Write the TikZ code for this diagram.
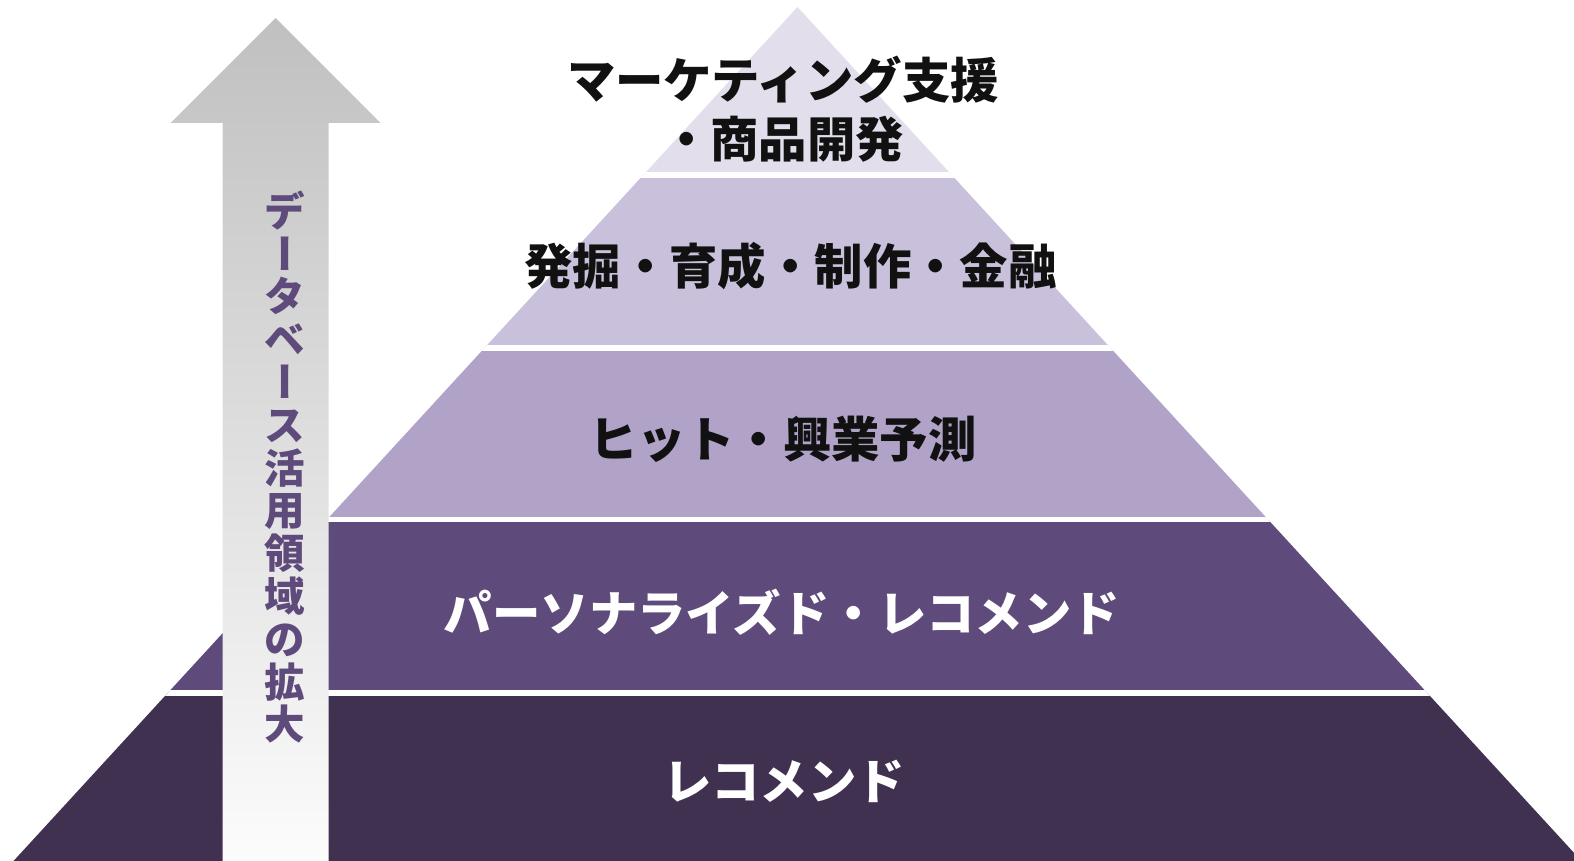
\documentclass[tikz,border=0pt]{standalone}
\usepackage{fontspec}
\setmainfont{Noto Sans CJK JP}
\definecolor{layA}{RGB}{227,222,236}
\definecolor{layB}{RGB}{201,192,219}
\definecolor{layC}{RGB}{177,162,200}
\definecolor{layD}{RGB}{95,75,123}
\definecolor{layE}{RGB}{65,49,81}
\definecolor{ink}{RGB}{17,17,17}
\definecolor{vink}{RGB}{95,75,123}
\definecolor{arrtop}{RGB}{192,192,192}
\definecolor{arrmid}{RGB}{206,206,206}
\definecolor{arrbot}{RGB}{252,252,252}
\tikzset{
  lbl/.style={font=\fontsize{48.4}{58}\selectfont\bfseries, inner sep=0pt, text height=42.6pt, text depth=5.8pt},
  vlbl/.style={font=\fontsize{40.5}{48}\selectfont\bfseries, text=vink, inner sep=0pt, text height=35.6pt, text depth=4.9pt},
  gap/.style={white, line width=5.5pt}
}
\begin{document}
\begin{tikzpicture}[x=1pt,y=-1pt]
\useasboundingbox (0,0) rectangle (1574,861);
% pyramid
\begin{scope}
  \clip (797.5,7) -- (1581.5,861) -- (13.5,861) -- cycle;
  \fill[layA] (0,0) rectangle (1574,175);
  \fill[layB] (0,175) rectangle (1574,348);
  \fill[layC] (0,348) rectangle (1574,519.5);
  \fill[layD] (0,519.5) rectangle (1574,693);
  \fill[layE] (0,693) rectangle (1574,861);
  \foreach \yy in {175,348,519.5,693} \draw[gap] (0,\yy) -- (1574,\yy);
\end{scope}
% arrow
\shade[top color=arrtop, middle color=arrmid, bottom color=arrbot]
  (275.5,18) -- (380.5,123) -- (328.5,123) -- (328.5,861) -- (222.5,861) -- (222.5,123) -- (170.5,123) -- cycle;
% vertical text
\foreach \c/\r [count=\i] in {デ/0,ー/-90,タ/0,ベ/0,ー/-90,ス/0,活/0,用/0,領/0,域/0,の/0,拡/0,大/0}
  \node[vlbl, rotate=\r] (v\i) at (285,{211+42.8*(\i-1)}) {\c};
% labels
\node[lbl, text=ink] (t1a) at (783,80) {マーケティング支援};
\node[lbl, text=ink] (t1b) at (783,139.5) {・商品開発};
\node[lbl, text=ink] (t2) at (790.5,266) {発掘・育成・制作・金融};
\node[lbl, text=ink] (t3) at (783,439) {ヒット・興業予測};
\node[lbl, text=white] (t4) at (782,613) {パーソナライズド・レコメンド};
\node[lbl, text=white] (t5) at (784,781) {レコメンド};
\end{tikzpicture}
\end{document}
